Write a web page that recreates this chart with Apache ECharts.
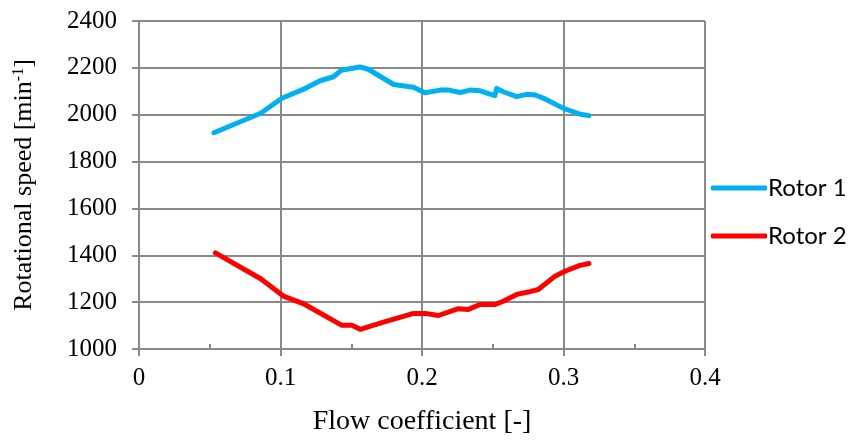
<!DOCTYPE html>
<html>
<head>
<meta charset="utf-8">
<script src="https://cdn.jsdelivr.net/npm/echarts@6/dist/echarts.min.js"></script>
<style>html,body{margin:0;padding:0;background:#fff}#c{width:854px;height:441px}</style>
</head>
<body>
<div id="c"></div>
<script>
const rotor1X = [0.053,0.086,0.101,0.116,0.128,0.1375,0.143,0.156,0.162,0.180,0.194,0.202,0.213,0.219,0.227,0.234,0.241,0.2515,0.2528,0.2574,0.267,0.274,0.280,0.286,0.300,0.312,0.318];
const rotor1Y = [1923,2006,2070,2108,2145,2162,2190,2204,2194,2129,2117,2094,2105,2105,2095,2105,2102,2081,2112,2098,2077,2087,2084,2070,2027,2002,1996];
const rotor2X = [0.054,0.086,0.102,0.116,0.1434,0.1505,0.1563,0.1728,0.194,0.2022,0.2116,0.2257,0.2328,0.241,0.2516,0.2574,0.267,0.2751,0.2822,0.294,0.301,0.3116,0.318];
const rotor2Y = [1410,1300,1226,1194,1101,1101,1084,1115,1152,1152,1143,1172,1169,1190,1190,1204,1233,1243,1254,1311,1332,1357,1365];
const seriesNames = ['Rotor 1','Rotor 2'];
const xTitle = 'Flow coefficient [-]';

const pair = (xs, ys) => xs.map((x, i) => [x, ys[i]]);
const serif = 'Liberation Serif';
const gridColor = '#898989';

const chart = echarts.init(document.getElementById('c'));
chart.setOption({
  animation: false,
  grid: {left: 139, right: 149, top: 21, bottom: 91},
  legend: {
    orient: 'vertical', left: 706, top: 170,
    itemWidth: 56, itemHeight: 5, itemGap: 22, icon: 'roundRect',
    textStyle: {fontFamily: 'Lato', fontSize: 24, color: '#000', lineHeight: 26, padding: [0,0,0,-4]},
    data: seriesNames
  },
  xAxis: [{
    type: 'value', min: 0, max: 0.4, interval: 0.1,
    name: xTitle, nameLocation: 'middle', nameGap: 59,
    nameTextStyle: {fontFamily: serif, fontSize: 28, color: '#000'},
    axisLine: {show: true, lineStyle: {color: gridColor, width: 2}},
    axisTick: {show: true, length: 7, lineStyle: {color: gridColor, width: 2}},
    axisLabel: {fontFamily: serif, fontSize: 25, color: '#000', margin: 17, formatter: v => String(+v.toFixed(1))},
    splitLine: {show: true, lineStyle: {color: gridColor, width: 2}}
  }, {
    type: 'value', min: 0, max: 0.4, interval: 0.05, position: 'bottom',
    axisLine: {show: false},
    axisTick: {show: true, inside: true, length: 5, lineStyle: {color: gridColor, width: 2}},
    axisLabel: {show: false},
    splitLine: {show: false}
  }],
  yAxis: {
    type: 'value', min: 1000, max: 2400, interval: 200,
    name: 'Rotational speed [min{sup|-1}]', nameLocation: 'middle', nameGap: 102,
    nameTextStyle: {fontFamily: serif, fontSize: 26, color: '#000',
      rich: {sup: {fontFamily: serif, fontSize: 16, color: '#000', verticalAlign: 'top', lineHeight: 16}}},
    axisLine: {show: true, lineStyle: {color: gridColor, width: 2}},
    axisTick: {show: true, length: 7, lineStyle: {color: gridColor, width: 2}},
    axisLabel: {fontFamily: serif, fontSize: 25, color: '#000', margin: 22, formatter: v => String(v)},
    splitLine: {show: true, lineStyle: {color: gridColor, width: 2}}
  },
  series: [{
    name: seriesNames[0], type: 'line', data: pair(rotor1X, rotor1Y), symbol: 'none', smooth: false,
    color: '#00B0F0', lineStyle: {width: 5, cap: 'round', join: 'round'}
  }, {
    name: seriesNames[1], type: 'line', data: pair(rotor2X, rotor2Y), symbol: 'none', smooth: false,
    color: '#FF0000', lineStyle: {width: 5, cap: 'round', join: 'round'}
  }]
});
</script>
</body>
</html>
